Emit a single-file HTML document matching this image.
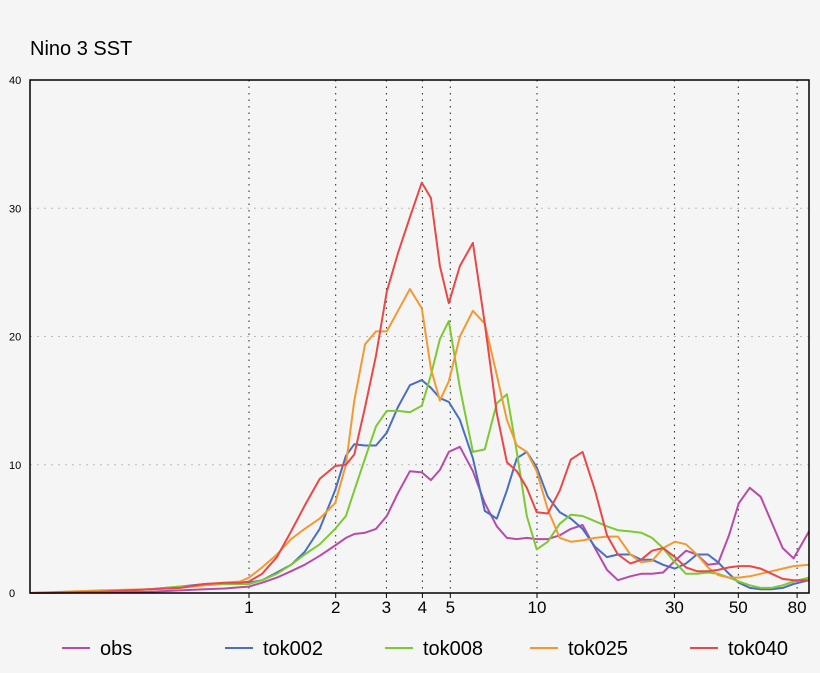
<!DOCTYPE html>
<html><head><meta charset="utf-8"><style>
body{margin:0;background:#f5f5f5;font-family:"Liberation Sans",sans-serif;}
svg{display:block}
</style></head><body>
<svg id="chart" width="820" height="673">
<rect x="0" y="0" width="820" height="673" fill="#f5f5f5"/>
<text x="30" y="55" font-size="20" fill="#000">Nino  3  SST</text>
<g id="grid"></g><g id="series"></g><g id="axes"></g><g id="legend"></g>
</svg>
<script>
const periods=[0.174,0.304,0.453,0.576,0.703,0.825,0.931,1,1.11,1.25,1.40,1.56,1.76,1.99,2.17,2.32,2.53,2.76,3.01,3.29,3.62,3.98,4.28,4.60,4.94,5.40,5.99,6.59,7.25,7.86,8.51,9.22,9.98,10.9,12.0,13.1,14.4,15.9,17.5,19.1,21.1,23.0,25.1,27.4,30.1,32.9,35.9,39.2,42.5,46.4,50.2,54.8,59.8,65.3,71.3,77.8,88];
const obs=[0,0.05,0.1,0.2,0.3,0.35,0.45,0.5,0.8,1.2,1.7,2.2,2.9,3.7,4.3,4.6,4.7,5.0,6.0,7.8,9.5,9.4,8.8,9.6,11.0,11.4,9.5,7.0,5.2,4.3,4.2,4.3,4.2,4.2,4.5,5.0,5.3,3.5,1.8,1.0,1.3,1.5,1.5,1.6,2.5,3.3,3.0,2.2,2.3,4.5,7.0,8.2,7.5,5.5,3.5,2.7,4.8];
const tok002=[0,0.1,0.3,0.5,0.7,0.75,0.8,0.8,1.0,1.6,2.2,3.2,5.0,8.0,10.7,11.6,11.5,11.5,12.5,14.5,16.2,16.6,16.0,15.2,14.9,13.5,10.5,6.4,5.8,8.0,10.5,11.0,9.8,7.5,6.3,5.8,5.0,3.6,2.8,3.0,3.0,2.6,2.6,2.2,1.9,2.3,3.0,3.0,2.4,1.5,0.8,0.4,0.3,0.3,0.4,0.7,1.0];
const tok008=[0,0.1,0.3,0.5,0.6,0.7,0.7,0.7,1.0,1.5,2.2,3.0,3.8,5.0,6.0,8.0,10.5,13.0,14.2,14.2,14.1,14.6,17.0,19.8,21.2,16.0,11.0,11.2,14.8,15.5,11.0,6.0,3.4,4.0,5.4,6.1,6.0,5.6,5.2,4.9,4.8,4.7,4.3,3.5,2.4,1.5,1.5,1.6,1.5,1.2,0.9,0.6,0.4,0.4,0.6,0.9,1.2];
const tok025=[0,0.2,0.3,0.4,0.6,0.8,0.9,1.2,2.0,3.0,4.2,5.0,5.8,7.0,10.0,15.0,19.4,20.4,20.4,22.0,23.7,22.2,17.5,15.0,16.5,20.0,22.0,21.0,17.0,13.5,11.5,11.0,9.5,6.5,4.3,4.0,4.1,4.3,4.4,4.4,3.0,2.4,2.5,3.5,4.0,3.8,3.0,2.0,1.4,1.2,1.2,1.3,1.5,1.7,1.9,2.1,2.2];
const tok040=[0,0.1,0.3,0.4,0.7,0.8,0.8,0.9,1.5,2.8,4.8,6.8,8.9,9.9,10.0,10.8,14.5,18.5,23.5,26.5,29.3,32.0,30.8,25.5,22.6,25.5,27.3,21.0,14.0,10.2,9.5,8.2,6.3,6.2,8.0,10.4,11.0,8.0,4.5,3.0,2.3,2.6,3.3,3.5,2.8,2.0,1.7,1.7,1.8,2.0,2.1,2.1,1.9,1.5,1.1,1.0,1.0];
const seriesNames=["obs","tok002","tok008","tok025","tok040"];
const seriesColors=["#b84aa8","#4a6ec0","#7ec832","#f29a32","#e84848"];
const xTicks=[1,2,3,4,5,10,30,50,80];
const xTickLabels=["1","2","3","4","5","10","30","50","80"];
const yTicks=[0,10,20,30,40];
const L=30,R=809,T=80,B=593;
const xScale=p=>249+Math.log10(p)*288;
const yScale=v=>B-(v/40)*(B-T);
const NS="http://www.w3.org/2000/svg";
function mk(tag,attrs,parent){const e=document.createElementNS(NS,tag);for(const k in attrs)e.setAttribute(k,attrs[k]);parent.appendChild(e);return e;}
const grid=document.getElementById('grid'),axes=document.getElementById('axes'),ser=document.getElementById('series'),leg=document.getElementById('legend');
yTicks.forEach(v=>{
  if(v>0&&v<40){const g=mk('line',{x1:L,x2:R,y1:yScale(v),y2:yScale(v),stroke:'#bbb','stroke-dasharray':'2,5'},grid);
  
  }
  const t=mk('text',{x:9,y:yScale(v)+4,'font-size':11,fill:'#000'},axes);t.textContent=v;
  
  
});
xTicks.forEach((p,i)=>{
  const x=xScale(p);
  const g=mk('line',{x1:x,x2:x,y1:T,y2:B,stroke:'#222','stroke-dasharray':'1.5,5'},grid);
  
  
  mk('line',{x1:x,x2:x,y1:B,y2:B+5,stroke:'#000'},axes);
  const t=mk('text',{x:x,y:613,'font-size':17,'text-anchor':'middle',fill:'#000'},axes);t.textContent=xTickLabels[i];
  
  
});
const frame=mk('rect',{x:L,y:T,width:R-L,height:B-T,fill:'none',stroke:'#000','stroke-width':1.5},axes);


[obs,tok002,tok008,tok025,tok040].forEach((vals,si)=>{
  const d=vals.map((v,i)=>(i?'L':'M')+xScale(periods[i]).toFixed(1)+','+yScale(v).toFixed(1)).join('');
  const p=mk('path',{d:d,fill:'none',stroke:seriesColors[si],'stroke-width':2,'stroke-linejoin':'round'},ser);
  
  
});
const legX=[62,225,385,530,690];
seriesNames.forEach((n,i)=>{
  const l=mk('line',{x1:legX[i],x2:legX[i]+28,y1:648,y2:648,stroke:seriesColors[i],'stroke-width':2},leg);
  
  
  const t=mk('text',{x:legX[i]+38,y:655,'font-size':20,fill:'#000'},leg);t.textContent=n;
  
  
});
</script>
</body></html>
